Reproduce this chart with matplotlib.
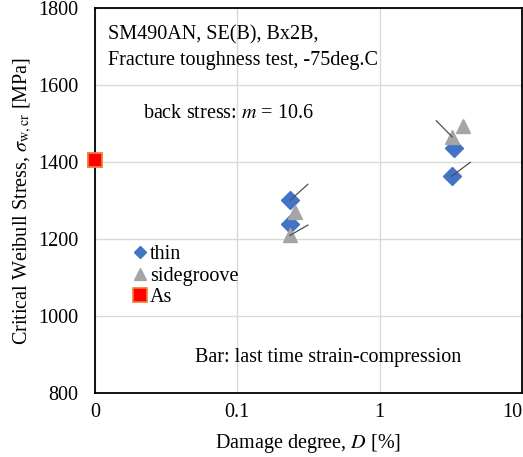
import matplotlib
matplotlib.use("Agg")
import matplotlib.pyplot as plt
from matplotlib.lines import Line2D

# ---- data ----
thin_D = [0.236, 0.236, 3.32, 3.21]
thin_S = [1302, 1240, 1436, 1364]
side_D = [0.254, 0.234, 3.23, 3.83]
side_S = [1270, 1210, 1466, 1494]
as_D = [0.01]
as_S = [1407]
# bars: last time strain-compression (segment start -> end)
bar_D0 = [0.236, 0.234, 2.50, 3.21]
bar_S0 = [1302, 1210, 1508, 1364]
bar_D1 = [0.313, 0.313, 3.23, 4.33]
bar_S1 = [1343, 1237, 1466, 1400]
xticks = [0.01, 0.1, 1, 10]
xtick_labels = ["0", "0.1", "1", "10"]
yticks = [800, 1000, 1200, 1400, 1600, 1800]

plt.rcParams['font.family'] = ['Liberation Serif', 'DejaVu Serif']
plt.rcParams['mathtext.fontset'] = 'stix'
FS = 14.5

fig = plt.figure(figsize=(5.23, 4.57), dpi=100)
ax = fig.add_axes([95/523, (457-393.3)/457, (522-95)/523, 385/457])
ax.set_xscale('log')
ax.set_xlim(0.01, 10)
ax.set_ylim(800, 1800)
ax.set_xticks(xticks)
ax.set_xticklabels(xtick_labels)
ax.minorticks_off()
ax.set_yticks(yticks)
ax.grid(True, color='#d9d9d9', linewidth=1.0, zorder=0)
ax.set_axisbelow(True)
ax.tick_params(length=0, labelsize=FS)
ax.tick_params(axis='y', pad=12)
ax.tick_params(axis='x', pad=7)
ax.get_xticklabels()[-1].set_horizontalalignment('right')
for s in ax.spines.values():
    s.set_linewidth(1.3)
    s.set_color('black')

blue = '#4472C4'
gray = '#A5A5A5'
ax.plot(thin_D, thin_S, linestyle='none', marker='D', markersize=9,
        color=blue, markeredgecolor=blue, zorder=3, clip_on=False)
ax.plot(side_D, side_S, linestyle='none', marker='^', markersize=10.5,
        color=gray, markeredgecolor=gray, zorder=4, clip_on=False)
ax.plot(as_D, as_S, linestyle='none', marker='s', markersize=10,
        markerfacecolor='#FF0000', markeredgecolor='#ED7D31', markeredgewidth=1.3,
        zorder=5, clip_on=False)
for d0, s0, d1, s1 in zip(bar_D0, bar_S0, bar_D1, bar_S1):
    ax.plot([d0, d1], [s0, s1], color='#505050', linewidth=0.9, zorder=6)

ax.set_xlabel('Damage degree, $D$ [%]', fontsize=FS, labelpad=7)
ax.set_ylabel(r'Critical Weibull Stress, $\sigma_{\mathrm{w,cr}}$ [MPa]', fontsize=FS, labelpad=3)

ax.text(0.030, 0.920, 'SM490AN, SE(B), Bx2B,', transform=ax.transAxes,
        fontsize=FS, va='baseline', ha='left')
ax.text(0.030, 0.853, 'Fracture toughness test, -75deg.C', transform=ax.transAxes,
        fontsize=FS, va='baseline', ha='left')
ax.text(0.112, 0.715, 'back stress: $m$ = 10.6', transform=ax.transAxes,
        fontsize=FS, va='baseline', ha='left')
ax.text(0.234, 0.0813, 'Bar: last time strain-compression', transform=ax.transAxes,
        fontsize=FS, va='baseline', ha='left')

handles = [
    Line2D([], [], linestyle='none', marker='D', markersize=6, color=blue),
    Line2D([], [], linestyle='none', marker='^', markersize=8, color=gray),
    Line2D([], [], linestyle='none', marker='s', markersize=9.5,
           markerfacecolor='#FF0000', markeredgecolor='#ED7D31', markeredgewidth=1.2),
]
ax.legend(handles, ['thin', 'sidegroove', 'As'], loc='upper left',
          bbox_to_anchor=(0.0867, 0.385), frameon=False, fontsize=FS,
          handlelength=0.8, handletextpad=0.1, labelspacing=0.12,
          borderpad=0, borderaxespad=0)

fig.savefig('out.png', dpi=100)
